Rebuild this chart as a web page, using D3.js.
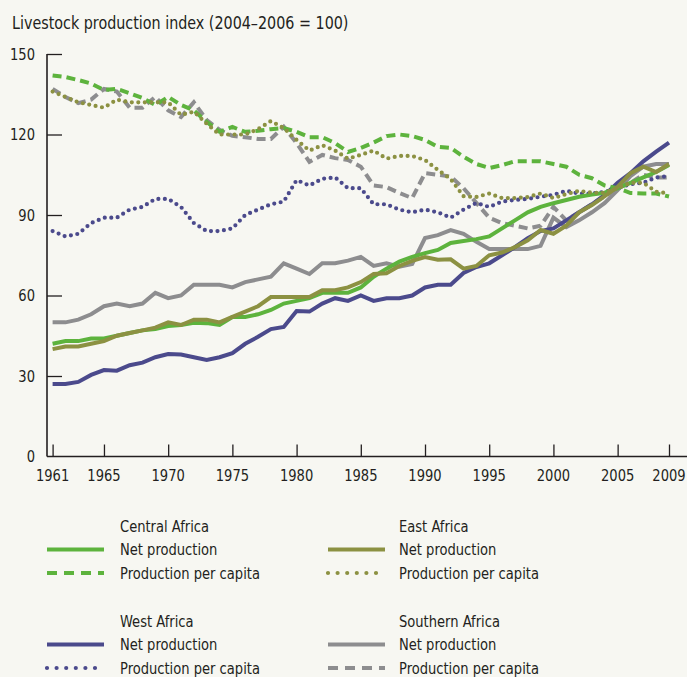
<!DOCTYPE html>
<html>
<head>
<meta charset="utf-8">
<script src="https://cdn.jsdelivr.net/npm/d3@7"></script>
<style>
  html, body { margin: 0; padding: 0; background: #f7f7f2; }
  svg text { font-family: "DejaVu Sans Condensed", "DejaVu Sans", sans-serif; fill: #231f20; }
</style>
</head>
<body>
<div id="chart"></div>
<script>
// years 1961..2009
const years = d3.range(1961, 2010);

// Central Africa
const centralNet = [42,43,43,44,44,45,46,47,47.5,48.6,49,49.8,49.7,49,52,52,53,54.6,57,58,59,61,61,61,63,67,70,72.6,74.4,75.8,77,79.6,80.3,81,82,85,88,91,93,94.4,95.6,96.8,97.6,98.3,100,102,104,106,108.6];
const centralCap = [142,141.4,140.3,139,136.6,137,135.4,133.6,131,134,131,129,124.7,121,122.8,121,121.4,122,122.4,121,119,119,116.8,113.5,115,117,119.4,120,119.4,118,115.4,115,111.7,109,107.5,108.6,110,110,110,109,108,105,103.7,101,100,98.2,98,98,96.9];

// East Africa
const eastNet = [40,41,41,42,43,45,46,47,48,50,49,51,51,50,52,54,56,59.4,59.4,59.4,59.4,62,62,63,65,68,68.3,71,72.9,74.3,73.3,73.5,70,71,75,76,78,80.6,84.4,83,86,91,93.7,97,100.5,105.6,108,106,109];
const eastCap = [136,134,132,131,130,133,132,132,132,132,127.3,128.5,124,120,120,120,122,125,122.4,118,114,116,114,111,112.4,114,111,112,112,110.5,106.8,103.4,97,96.7,98,96.3,96.3,96.7,98,96.3,97.8,99,98.3,98.3,100,102,102,98.7,98];

// West Africa
const westNet = [27,27,27.8,30.4,32.2,32,34,35,37,38.2,38,37,36,37,38.5,42,44.6,47.5,48.3,54.2,54,57,59,58,60,58,59,59,60,63,64,64,68.4,70.6,72,75,78,81.4,84,85,88,91,94,97.5,102,105.6,110,113.6,117];
const westCap = [84,82,83,87,89,89,92,93,96,96,93,87,84,84,85,90,92,94,95,103,101,103.5,104,100,100,94,94,92,91,92,91,89,92,94.5,93,95,95.6,96,96.8,97.5,99,98,98,98.6,100,101.5,102,104,104.5];

// Southern Africa
const southNet = [50,50,51,53,56,57,56,57,61,59,60,64,64,64,63,65,66,67,72,70,68,72,72,73,74.4,71,72,70.7,71.7,81.4,82.5,84.4,83,80,77.3,77.3,77.3,77.3,78.5,89,85.5,88,91,94.5,99.3,104.5,108,109,109];
const southCap = [137,134,131.7,133,137,136,130,130,134,129,126.5,132,125.4,121.7,119.5,119,118.3,118.3,122.9,116.8,109.8,112.4,111.2,110.5,108,101,100.4,98.2,96.3,105.6,105,104.3,100,94.5,89,87,86,85,86,93,88,91,94,97,100,102,105,104,104];

const xTicks = [1961,1965,1970,1975,1980,1985,1990,1995,2000,2005,2009];
const yTicks = [0,30,60,90,120,150];

const regions = ['Central Africa','East Africa','West Africa','Southern Africa'];
const colours = { 'Central Africa': '#5db33d', 'East Africa': '#8c9142', 'West Africa': '#4b4a8c', 'Southern Africa': '#8d8d8f' };
const capStyle = { 'Central Africa': 'dash', 'East Africa': 'dot', 'West Africa': 'dot', 'Southern Africa': 'dash' };

const series = [
  { region: 'Southern Africa', kind: 'net', values: southNet },
  { region: 'Southern Africa', kind: 'cap', values: southCap },
  { region: 'West Africa', kind: 'net', values: westNet },
  { region: 'West Africa', kind: 'cap', values: westCap },
  { region: 'Central Africa', kind: 'net', values: centralNet },
  { region: 'Central Africa', kind: 'cap', values: centralCap },
  { region: 'East Africa', kind: 'net', values: eastNet },
  { region: 'East Africa', kind: 'cap', values: eastCap }
];

const width = 687, height = 677;
const sx = 0.91; // squeeze text to look like the condensed original
const svg = d3.select('#chart').append('svg')
  .attr('width', width)
  .attr('height', height)
  .style('display', 'block')
  .style('background', '#f7f7f2');

const x = d3.scaleLinear().domain([1961, 2009]).range([52.6, 669]);
const y = d3.scaleLinear().domain([0, 150]).range([456.5, 54]);
const axisX0 = 47;

function label(parent, tx, ty, str, size, anchor) {
  return parent.append('text')
    .attr('transform', `translate(${tx},${ty}) scale(${sx},1)`)
    .attr('text-anchor', anchor || 'start')
    .style('font-size', size + 'px')
    .text(str);
}

// title
label(svg, 12, 29, 'Livestock production index (2004\u20132006 = 100)', 17.5);

// y axis
const yAxis = svg.append('g').attr('transform', `translate(${axisX0},0)`)
  .call(d3.axisRight(y).tickValues(yTicks.filter(d => d > 0)).tickSize(15).tickFormat(''));
yAxis.select('.domain').remove();
yAxis.selectAll('line').attr('stroke', '#231f20').attr('stroke-width', 1.3);

svg.append('line')
  .attr('x1', axisX0).attr('x2', axisX0)
  .attr('y1', y(150)).attr('y2', y(0))
  .attr('stroke', '#231f20').attr('stroke-width', 1.6);

yTicks.forEach(d => {
  label(svg, 35, y(d), d, 16, 'end').attr('dy', '0.35em');
});

// x axis
const xAxis = svg.append('g').attr('transform', `translate(0,${y(0)})`)
  .call(d3.axisTop(x).tickValues(xTicks).tickSize(12).tickFormat(''));
xAxis.select('.domain').remove();
xAxis.selectAll('line').attr('stroke', '#231f20').attr('stroke-width', 1.3);

svg.append('line')
  .attr('x1', axisX0).attr('x2', width)
  .attr('y1', y(0)).attr('y2', y(0))
  .attr('stroke', '#231f20').attr('stroke-width', 1.6);

xTicks.forEach(d => {
  label(svg, x(d), y(0) + 24, d, 16, 'middle');
});

// lines
const line = d3.line()
  .x((d, i) => x(years[i]))
  .y(d => y(d));

function styleLine(sel, d, legend) {
  sel.attr('fill', 'none')
    .attr('stroke', colours[d.region])
    .attr('stroke-width', 4);
  if (d.kind === 'cap') {
    if (capStyle[d.region] === 'dash') {
      sel.attr('stroke-dasharray', legend ? '10,7' : '9,5');
    } else {
      sel.attr('stroke-dasharray', legend ? '0,9.6' : '0,6.5')
        .attr('stroke-linecap', 'round')
        .attr('stroke-width', 4.2);
    }
  }
}

svg.append('g').selectAll('path')
  .data(series)
  .enter().append('path')
  .attr('d', d => line(d.values))
  .each(function(d) { styleLine(d3.select(this), d, false); });

// legend
const legendPos = {
  'Central Africa': { lx: 47, tx: 120, ty: 526 },
  'East Africa': { lx: 328, tx: 399, ty: 526 },
  'West Africa': { lx: 47, tx: 120, ty: 621 },
  'Southern Africa': { lx: 328, tx: 399, ty: 621 }
};

regions.forEach(r => {
  const p = legendPos[r];
  const g = svg.append('g');
  label(g, p.tx, p.ty, r, 16).attr('dy', '0.35em');
  [['net', 'Net production', 23.5], ['cap', 'Production per capita', 47]].forEach(([kind, txt, dy]) => {
    const ly = p.ty + dy;
    g.append('line')
      .attr('x1', p.lx).attr('x2', p.lx + 57)
      .attr('y1', ly).attr('y2', ly)
      .call(sel => styleLine(sel, { region: r, kind: kind }, true));
    label(g, p.tx, ly, txt, 16).attr('dy', '0.35em');
  });
});
</script>
</body>
</html>
